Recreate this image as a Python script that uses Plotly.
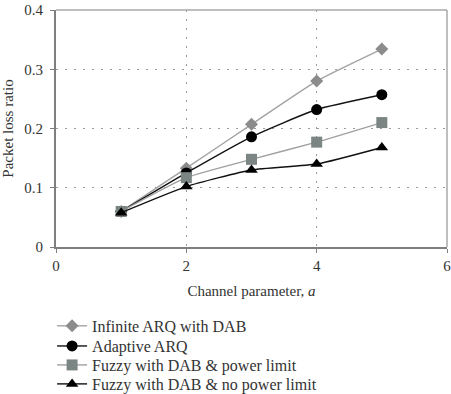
import plotly.graph_objects as go

channel = [1, 2, 3, 4, 5]
infinite_arq = [0.060, 0.133, 0.207, 0.280, 0.334]
adaptive_arq = [0.060, 0.125, 0.186, 0.232, 0.257]
fuzzy_limit = [0.060, 0.117, 0.148, 0.177, 0.210]
fuzzy_nolimit = [0.058, 0.102, 0.130, 0.140, 0.168]

names = ["Infinite ARQ with DAB", "Adaptive ARQ",
         "Fuzzy with DAB & power limit", "Fuzzy with DAB & no power limit"]

FONT = "Liberation Serif"

fig = go.Figure()
styles = [
    (infinite_arq, "diamond", 10, "#8c8c8c", "#a3a3a3"),
    (adaptive_arq, "circle", 11, "#000000", "#111111"),
    (fuzzy_limit, "square", 11, "#7b8583", "#a0a0a0"),
    (fuzzy_nolimit, "triangle-up", 11, "#000000", "#111111"),
]
legend_ids = ["legend", "legend2", "legend3", "legend4"]
for (vals, sym, sz, mc, lc), nm, lg in zip(styles, names, legend_ids):
    fig.add_trace(go.Scatter(
        x=channel, y=vals, name=nm, mode="lines+markers",
        line=dict(color=lc, width=1.4, shape="spline", smoothing=0.5),
        marker=dict(symbol=sym, size=sz, color=mc),
        legend=lg,
    ))

# one legend per entry so the row spacing matches the reference
row_y = [-0.333, -0.418, -0.498, -0.578]
leg_common = dict(x=-0.01, xanchor="left", yanchor="middle",
                  font=dict(family=FONT, size=16, color="#333333"),
                  bgcolor="rgba(0,0,0,0)", borderwidth=0)
legends = {lg: dict(y=yy, **leg_common) for lg, yy in zip(legend_ids, row_y)}

fig.update_layout(
    width=451, height=394,
    margin=dict(l=56, r=4, t=10, b=147, autoexpand=False),
    paper_bgcolor="white", plot_bgcolor="white",
    font=dict(family=FONT, size=14, color="#333333"),
    showlegend=True,
    **legends,
    xaxis=dict(range=[0, 6], dtick=2, tick0=0,
               showgrid=True, gridcolor="#9a9a9a", gridwidth=1, griddash="2px,7px",
               zeroline=False, showline=True, linecolor="#7f7f7f", linewidth=2,
               ticks="outside", ticklen=4, tickcolor="#7f7f7f",
               ticklabeloverflow="allow",
               tickfont=dict(size=15, color="#333333"),
               title=dict(text="Channel parameter, <i>a</i>", font=dict(size=15, color="#333333"), standoff=12)),
    yaxis=dict(range=[0, 0.4], dtick=0.1, tick0=0,
               showgrid=True, gridcolor="#9a9a9a", gridwidth=1, griddash="2px,7px",
               zeroline=False, showline=True, linecolor="#7f7f7f", linewidth=2,
               ticks="outside", ticklen=4, tickcolor="#7f7f7f",
               ticklabeloverflow="allow", ticklabelstandoff=4,
               tickfont=dict(size=15, color="#333333"),
               title=dict(text="Packet loss ratio", font=dict(size=15, color="#333333"), standoff=8)),
)
# top and right frame lines
fig.add_shape(type="line", xref="paper", yref="paper", x0=0, x1=1, y0=1, y1=1,
              line=dict(color="#a8a8a8", width=1.5))
fig.add_shape(type="line", xref="paper", yref="paper", x0=1, x1=1, y0=0, y1=1,
              line=dict(color="#a8a8a8", width=1.5))

fig.write_html("out.html")
